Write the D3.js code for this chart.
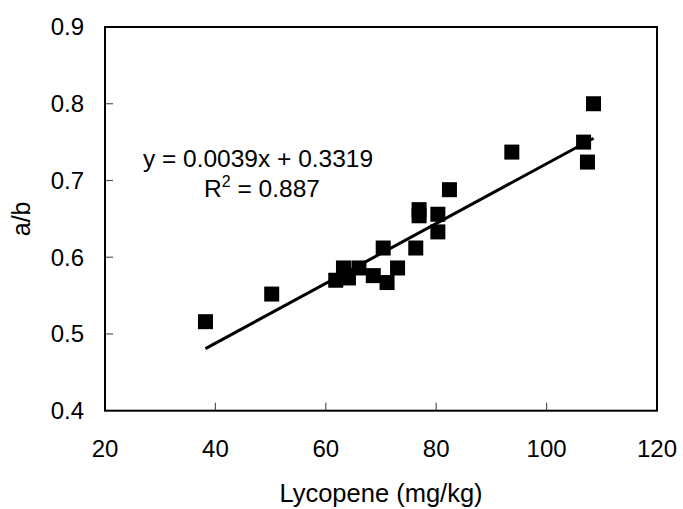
<!DOCTYPE html>
<html>
<head>
<meta charset="utf-8">
<script src="https://cdn.jsdelivr.net/npm/d3@7.9.0/dist/d3.min.js"></script>
<style>
  html, body { margin: 0; padding: 0; background: #fff; }
  svg { display: block; font-family: "Liberation Sans", Arial, sans-serif; }
</style>
</head>
<body>
<svg id="chart" width="683" height="509"></svg>
<script>
// lycopene (mg/kg) vs a/b ratio
const lycopene = [38.2, 50.2, 61.8, 63.2, 64.1, 66.0, 68.6, 71.1, 73.0, 70.4,
                  76.3, 76.9, 76.9, 80.3, 80.3, 82.4, 93.7, 106.7, 107.4, 108.5];
const ratio    = [0.516, 0.552, 0.570, 0.586, 0.573, 0.586, 0.576, 0.567, 0.586, 0.612,
                  0.612, 0.662, 0.654, 0.656, 0.633, 0.688, 0.737, 0.750, 0.724, 0.800];

const xTicks = [20, 40, 60, 80, 100, 120];
const yTicks = [0.4, 0.5, 0.6, 0.7, 0.8, 0.9];

// trend line
const slope = 0.0039, intercept = 0.3319;
const eqText = 'y = 0.0039x + 0.3319';
const r2Text = ' = 0.887';

const plotL = 105, plotR = 657, plotT = 27, plotB = 410.7;

const x = d3.scaleLinear().domain([20, 120]).range([plotL, plotR]);
const y = d3.scaleLinear().domain([0.4, 0.9]).range([plotB, plotT]);

const svg = d3.select('#chart');

/* ---- inner ticks ---- */
svg.append('g')
  .selectAll('line')
  .data(yTicks.slice(1, -1))
  .join('line')
    .attr('x1', plotL).attr('x2', plotL + 8)
    .attr('y1', d => y(d)).attr('y2', d => y(d))
    .attr('stroke', '#555').attr('stroke-width', 1.2);

svg.append('g')
  .selectAll('line')
  .data(xTicks.slice(1, -1))
  .join('line')
    .attr('x1', d => x(d)).attr('x2', d => x(d))
    .attr('y1', plotB).attr('y2', plotB - 8)
    .attr('stroke', '#555').attr('stroke-width', 1.2);

/* ---- plot box ---- */
svg.append('rect')
  .attr('x', plotL).attr('y', plotT)
  .attr('width', plotR - plotL).attr('height', plotB - plotT)
  .attr('fill', 'none').attr('stroke', '#000').attr('stroke-width', 2);

/* ---- tick labels ---- */
svg.append('g')
  .selectAll('text')
  .data(yTicks)
  .join('text')
    .attr('x', plotL - 21)
    .attr('y', d => y(d))
    .attr('dy', '0.35em')
    .attr('text-anchor', 'end')
    .attr('font-size', 24)
    .text(d => d3.format('.1f')(d));

svg.append('g')
  .selectAll('text')
  .data(xTicks)
  .join('text')
    .attr('x', d => x(d))
    .attr('y', 457)
    .attr('text-anchor', 'middle')
    .attr('font-size', 24)
    .text(d => d);

/* ---- axis titles ---- */
svg.append('text')
  .attr('x', 381)
  .attr('y', 502)
  .attr('text-anchor', 'middle')
  .attr('font-size', 25.5)
  .text('Lycopene (mg/kg)');

svg.append('text')
  .attr('transform', `translate(30, ${(plotT + plotB) / 2}) rotate(-90)`)
  .attr('text-anchor', 'middle')
  .attr('font-size', 25)
  .text('a/b');

/* ---- trend line ---- */
const [x0, x1] = d3.extent(lycopene);
svg.append('line')
  .attr('x1', x(x0)).attr('y1', y(slope * x0 + intercept))
  .attr('x2', x(x1)).attr('y2', y(slope * x1 + intercept))
  .attr('stroke', '#000').attr('stroke-width', 3);

/* ---- points ---- */
const s = 15;
svg.append('g')
  .selectAll('rect')
  .data(lycopene.map((v, i) => [v, ratio[i]]))
  .join('rect')
    .attr('x', d => x(d[0]) - s / 2)
    .attr('y', d => y(d[1]) - s / 2)
    .attr('width', s).attr('height', s)
    .attr('fill', '#000');

/* ---- equation ---- */
svg.append('text')
  .attr('x', 258).attr('y', 167)
  .attr('text-anchor', 'middle')
  .attr('font-size', 24.5)
  .text(eqText);

const r2 = svg.append('text')
  .attr('x', 262).attr('y', 197)
  .attr('text-anchor', 'middle')
  .attr('font-size', 24.5);
r2.append('tspan').text('R');
r2.append('tspan').attr('font-size', 16).attr('dy', -10).text('2');
r2.append('tspan').attr('dy', 10).text(r2Text);
</script>
</body>
</html>
